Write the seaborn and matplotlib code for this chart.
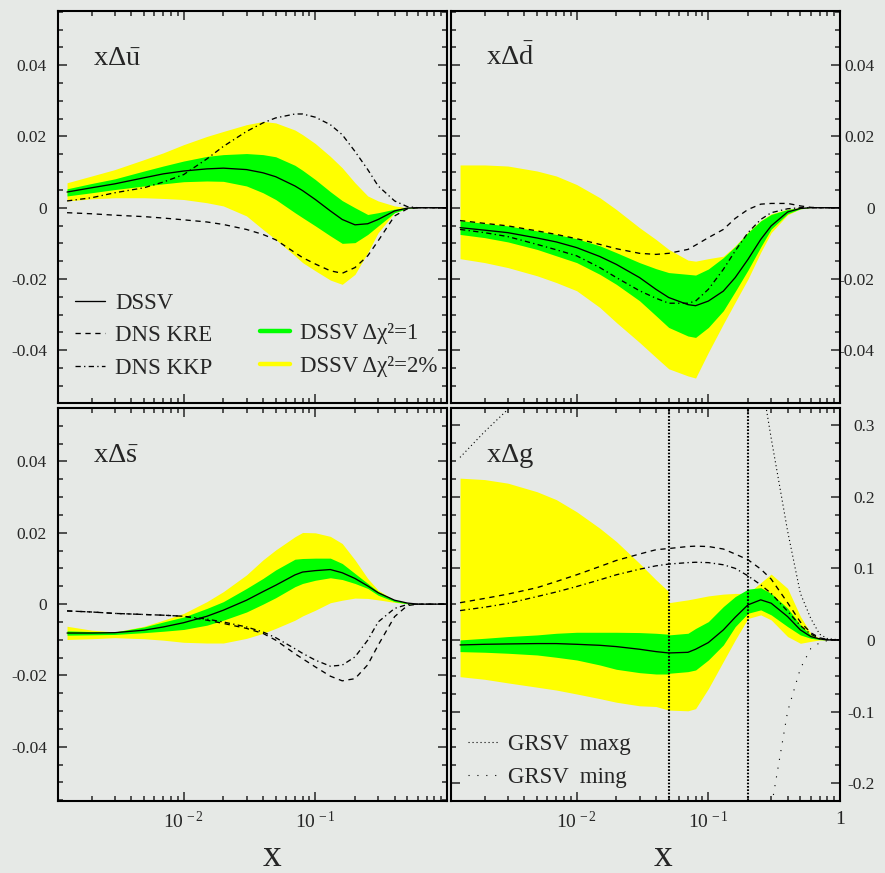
import numpy as np
import matplotlib
matplotlib.use('Agg')
import matplotlib.pyplot as plt
import seaborn as sns
from matplotlib.lines import Line2D
from matplotlib.ticker import MultipleLocator, LogLocator, FixedLocator, NullFormatter

# style first, fonts after (set_style resets font.family)
sns.set_style('ticks')
plt.rcParams['font.family'] = ['Liberation Serif', 'DejaVu Serif']
plt.rcParams['mathtext.fontset'] = 'custom'
plt.rcParams['mathtext.rm'] = 'Liberation Serif'
plt.rcParams['mathtext.it'] = 'Liberation Serif:italic'
plt.rcParams['mathtext.bf'] = 'Liberation Serif:bold'
plt.rcParams['axes.unicode_minus'] = False

BG = '#e6e9e6'
GREEN = '#00ff00'
YELLOW = '#ffff00'

# x grid used by the sea-quark panels
xq = [0.0013, 0.002, 0.003, 0.005, 0.007, 0.01, 0.015, 0.02, 0.03, 0.04, 0.05,
      0.07, 0.08, 0.1, 0.13, 0.16, 0.2, 0.25, 0.3, 0.4, 0.5, 0.6, 0.7, 0.8, 1.0]

# x Delta ubar
ubar_dssv = [0.0044, 0.0056, 0.0067, 0.0084, 0.0095, 0.0103, 0.0109, 0.0111, 0.0107, 0.0098, 0.0087,
             0.0061, 0.0048, 0.0023, -0.0009, -0.0033, -0.0048, -0.0045, -0.0033, -0.0009, -0.0001, 0, 0, 0, 0]
ubar_g_hi = [0.0053, 0.0068, 0.0081, 0.0103, 0.0117, 0.0131, 0.0144, 0.0149, 0.0152, 0.0149, 0.0143,
             0.0119, 0.0105, 0.0079, 0.0045, 0.0020, 0.0000, -0.0019, -0.0014, -0.0004, 0, 0, 0, 0, 0]
ubar_g_lo = [0.0033, 0.0042, 0.0051, 0.0061, 0.0067, 0.0073, 0.0075, 0.0074, 0.0061, 0.0042, 0.0023,
             -0.0014, -0.0028, -0.0051, -0.0079, -0.0100, -0.0098, -0.0075, -0.0051, -0.0014, -0.0002, 0, 0, 0, 0]
ubar_y_hi = [0.0070, 0.0089, 0.0107, 0.0135, 0.0154, 0.0177, 0.0200, 0.0214, 0.0233, 0.0242, 0.0238,
             0.0218, 0.0205, 0.0180, 0.0144, 0.0112, 0.0070, 0.0033, 0.0019, 0.0005, 0, 0, 0, 0, 0]
ubar_y_lo = [0.0019, 0.0025, 0.0028, 0.0028, 0.0026, 0.0023, 0.0014, 0.0005, -0.0023, -0.0061, -0.0089,
             -0.0135, -0.0154, -0.0177, -0.0203, -0.0215, -0.0187, -0.0126, -0.0070, -0.0014, -0.0002, 0, 0, 0, 0]
ubar_kre = [-0.0014, -0.0017, -0.0021, -0.0025, -0.0029, -0.0034, -0.0040, -0.0047, -0.0061, -0.0075, -0.0090,
            -0.0126, -0.0140, -0.0158, -0.0177, -0.0184, -0.0168, -0.0135, -0.0093, -0.0023, -0.0003, 0, 0, 0, 0]
ubar_kkp = [0.0019, 0.0028, 0.0042, 0.0056, 0.0072, 0.0093, 0.0137, 0.0172, 0.0214, 0.0238, 0.0252,
            0.0263, 0.0263, 0.0254, 0.0233, 0.0205, 0.0158, 0.0107, 0.0061, 0.0019, 0.0003, 0, 0, 0, 0]

# x Delta dbar
dbar_dssv = [-0.0056, -0.0063, -0.0070, -0.0085, -0.0096, -0.0112, -0.0137, -0.0159, -0.0196, -0.0229, -0.0252,
             -0.0272, -0.0275, -0.0262, -0.0234, -0.0196, -0.0145, -0.0089, -0.0051, -0.0012, -0.0002, 0, 0, 0, 0]
dbar_g_hi = [-0.0036, -0.0044, -0.0051, -0.0065, -0.0075, -0.0087, -0.0107, -0.0126, -0.0154, -0.0171, -0.0182,
             -0.0187, -0.0189, -0.0172, -0.0140, -0.0109, -0.0070, -0.0037, -0.0019, -0.0005, 0, 0, 0, 0, 0]
dbar_g_lo = [-0.0075, -0.0084, -0.0096, -0.0117, -0.0135, -0.0154, -0.0187, -0.0215, -0.0261, -0.0303, -0.0336,
             -0.0360, -0.0364, -0.0336, -0.0289, -0.0235, -0.0175, -0.0110, -0.0060, -0.0017, -0.0003, 0, 0, 0, 0]
dbar_y_hi = [0.0120, 0.0120, 0.0117, 0.0103, 0.0089, 0.0065, 0.0028, -0.0005, -0.0056, -0.0089, -0.0117,
             -0.0147, -0.0150, -0.0143, -0.0136, -0.0107, -0.0068, -0.0036, -0.0017, -0.0004, 0, 0, 0, 0, 0]
dbar_y_lo = [-0.0143, -0.0154, -0.0168, -0.0191, -0.0210, -0.0233, -0.0280, -0.0322, -0.0378, -0.0420, -0.0452,
             -0.0472, -0.0478, -0.0406, -0.0326, -0.0265, -0.0200, -0.0125, -0.0070, -0.0020, -0.0003, 0, 0, 0, 0]
dbar_kre = [-0.0036, -0.0044, -0.0051, -0.0065, -0.0075, -0.0087, -0.0103, -0.0115, -0.0128, -0.0131, -0.0128,
            -0.0117, -0.0105, -0.0084, -0.0061, -0.0030, -0.0005, 0.0010, 0.0012, 0.0012, 0.0005, 0.0001, 0, 0, 0]
dbar_kkp = [-0.0061, -0.0070, -0.0081, -0.0103, -0.0118, -0.0135, -0.0168, -0.0196, -0.0233, -0.0254, -0.0268,
            -0.0268, -0.0262, -0.0229, -0.0173, -0.0121, -0.0070, -0.0033, -0.0014, -0.0003, 0, 0, 0, 0, 0]

# x Delta sbar
sbar_dssv = [-0.0081, -0.0081, -0.0080, -0.0073, -0.0064, -0.0052, -0.0034, -0.0017, 0.0011, 0.0035, 0.0053,
             0.0082, 0.0090, 0.0094, 0.0097, 0.0088, 0.0072, 0.0051, 0.0032, 0.0011, 0.0003, 0, 0, 0, 0]
sbar_g_hi = [-0.0075, -0.0077, -0.0078, -0.0064, -0.0050, -0.0036, -0.0012, 0.0007, 0.0044, 0.0072, 0.0096,
             0.0126, 0.0128, 0.0129, 0.0129, 0.0114, 0.0086, 0.0058, 0.0035, 0.0012, 0.0003, 0, 0, 0, 0]
sbar_g_lo = [-0.0087, -0.0086, -0.0085, -0.0080, -0.0076, -0.0071, -0.0059, -0.0045, -0.0022, 0.0000, 0.0018,
             0.0049, 0.0058, 0.0067, 0.0074, 0.0069, 0.0058, 0.0044, 0.0025, 0.0007, 0.0001, 0, 0, 0, 0]
sbar_y_hi = [-0.0062, -0.0073, -0.0078, -0.0062, -0.0045, -0.0026, 0.0007, 0.0035, 0.0082, 0.0124, 0.0152,
             0.0189, 0.0201, 0.0200, 0.0190, 0.0170, 0.0124, 0.0072, 0.0039, 0.0011, 0.0002, 0, 0, 0, 0]
sbar_y_lo = [-0.0099, -0.0097, -0.0094, -0.0097, -0.0101, -0.0107, -0.0109, -0.0109, -0.0096, -0.0082, -0.0068,
             -0.0045, -0.0033, -0.0017, 0.0004, 0.0011, 0.0017, 0.0016, 0.0012, 0.0005, 0.0001, 0, 0, 0, 0]
sbar_kre = [-0.0019, -0.0022, -0.0026, -0.0029, -0.0031, -0.0034, -0.0045, -0.0054, -0.0068, -0.0082, -0.0101,
            -0.0139, -0.0153, -0.0176, -0.0202, -0.0215, -0.0209, -0.0170, -0.0115, -0.0035, -0.0004, 0, 0, 0, 0]
sbar_kkp = [-0.0019, -0.0022, -0.0026, -0.0029, -0.0031, -0.0034, -0.0042, -0.0050, -0.0064, -0.0078, -0.0094,
            -0.0125, -0.0138, -0.0157, -0.0174, -0.0171, -0.0148, -0.0101, -0.0050, -0.0012, -0.0001, 0, 0, 0, 0]

# x Delta g (0.05 appears twice: the error bands jump there)
xg = [0.0013, 0.002, 0.003, 0.005, 0.007, 0.01, 0.015, 0.02, 0.03, 0.04, 0.05, 0.05,
      0.07, 0.08, 0.1, 0.13, 0.16, 0.2, 0.25, 0.3, 0.4, 0.5, 0.6, 0.7, 0.8, 1.0]
g_dssv = [-0.0070, -0.0061, -0.0056, -0.0051, -0.0051, -0.0061, -0.0075, -0.0093, -0.0130, -0.0163, -0.0182, -0.0182,
          -0.0173, -0.0130, -0.0037, 0.0140, 0.0317, 0.0490, 0.0560, 0.0513, 0.0326, 0.0140, 0.0047, 0.0014, 0, 0]
g_g_hi = [0.0000, 0.0023, 0.0047, 0.0070, 0.0093, 0.0107, 0.0107, 0.0107, 0.0103, 0.0093, 0.0080, 0.0070,
          0.0093, 0.0160, 0.0256, 0.0466, 0.0606, 0.0709, 0.0730, 0.0650, 0.0443, 0.0210, 0.0070, 0.0014, 0, 0]
g_g_lo = [-0.0163, -0.0172, -0.0186, -0.0210, -0.0242, -0.0280, -0.0350, -0.0410, -0.0457, -0.0476, -0.0476, -0.0466,
          -0.0443, -0.0420, -0.0280, -0.0070, 0.0186, 0.0373, 0.0420, 0.0350, 0.0186, 0.0070, 0.0023, 0.0005, 0, 0]
g_y_hi = [0.226, 0.224, 0.219, 0.207, 0.196, 0.179, 0.156, 0.1375, 0.107, 0.084, 0.0676, 0.052,
          0.056, 0.058, 0.0615, 0.064, 0.065, 0.065, 0.080, 0.092, 0.072, 0.033, 0.0093, 0.0023, 0, 0]
g_y_lo = [-0.0513, -0.055, -0.060, -0.066, -0.070, -0.0755, -0.082, -0.087, -0.092, -0.093, -0.098, -0.098,
          -0.099, -0.096, -0.068, -0.030, 0.000, 0.030, 0.035, 0.028, 0.0047, -0.0047, -0.002, 0, 0, 0]
g_kre = [0.052, 0.058, 0.064, 0.073, 0.0816, 0.091, 0.1026, 0.111, 0.120, 0.126, 0.1277, 0.1277,
         0.1305, 0.131, 0.1305, 0.127, 0.120, 0.112, 0.099, 0.085, 0.052, 0.025, 0.010, 0.003, 0.0005, 0]
g_kkp = [0.041, 0.0457, 0.051, 0.0606, 0.067, 0.0746, 0.084, 0.091, 0.0988, 0.1035, 0.106, 0.106,
         0.108, 0.1085, 0.108, 0.105, 0.100, 0.0895, 0.077, 0.065, 0.040, 0.020, 0.008, 0.002, 0.0005, 0]
g_maxg = [0.255, 0.291, 0.322, 0.37, 0.40, 0.43, 0.46, 0.48, 0.50, 0.51, 0.52, 0.52,
          0.52, 0.52, 0.51, 0.49, 0.46, 0.42, 0.37, 0.282, 0.152, 0.065, 0.030, 0.008, 0.002, 0]
g_ming = [-0.60, -0.60, -0.60, -0.60, -0.60, -0.60, -0.60, -0.60, -0.60, -0.58, -0.56, -0.56,
          -0.53, -0.51, -0.48, -0.44, -0.40, -0.36, -0.33, -0.235, -0.100, -0.040, -0.012, -0.004, -0.001, 0]
g_cuts = [0.05, 0.2]

quark_yticks = [-0.04, -0.02, 0, 0.02, 0.04]
quark_ylabels = ['-0.04', '-0.02', '0', '0.02', '0.04']
gluon_yticks = [-0.2, -0.1, 0, 0.1, 0.2, 0.3]
gluon_ylabels = ['-0.2', '-0.1', '0', '0.1', '0.2', '0.3']

LS_KRE = (0, (4, 3.5))
LS_KKP = (0, (4, 2.5, 1, 2.5))
LS_MAXG = (0, (1, 2.6))
LS_MING = (0, (1, 7))

fig = plt.figure(figsize=(8.85, 8.73), dpi=100, facecolor=BG)
W, H = 885, 873
ax_tl = fig.add_axes([58 / W, 1 - 403 / H, 389 / W, 392 / H])
ax_tr = fig.add_axes([451 / W, 1 - 403 / H, 389 / W, 392 / H])
ax_bl = fig.add_axes([58 / W, 1 - 801 / H, 389 / W, 393 / H])
ax_br = fig.add_axes([451 / W, 1 - 801 / H, 389 / W, 393 / H])


def draw_panel(ax, x, y_lo, y_hi, g_lo, g_hi, dssv, kre, kkp):
    ax.fill_between(x, y_lo, y_hi, color=YELLOW, lw=0, zorder=1)
    ax.fill_between(x, g_lo, g_hi, color=GREEN, lw=0, zorder=2)
    sns.lineplot(x=x, y=kre, ax=ax, color='k', lw=0.95, linestyle=LS_KRE, estimator=None, zorder=3)
    sns.lineplot(x=x, y=kkp, ax=ax, color='k', lw=0.95, linestyle=LS_KKP, estimator=None, zorder=3)
    sns.lineplot(x=x, y=dssv, ax=ax, color='k', lw=0.95, estimator=None, zorder=4)


def style_axes(ax, ylim, yticks, ylabels, yminor, right=False, xlabels=None):
    ax.set_facecolor(BG)
    ax.set_xscale('log')
    ax.set_xlim(1.11e-3, 1.0)
    ax.set_ylim(*ylim)
    ax.xaxis.set_major_locator(FixedLocator([0.01, 0.1, 1.0]))
    ax.xaxis.set_minor_locator(LogLocator(base=10, subs=np.arange(2, 10), numticks=20))
    ax.xaxis.set_minor_formatter(NullFormatter())
    if xlabels is None:
        ax.set_xticklabels(['', '', ''])
    else:
        ax.set_xticklabels(xlabels)
    ax.set_yticks(yticks)
    ax.yaxis.set_minor_locator(MultipleLocator(yminor))
    ax.tick_params(which='both', direction='in', top=True, bottom=True, left=True, right=True,
                   width=1.1)
    ax.tick_params(which='major', length=6.5)
    ax.tick_params(which='minor', length=3.5)
    ax.tick_params(axis='y', labelsize=12.5)
    ax.tick_params(axis='x', pad=7, labelsize=14, labelbottom=xlabels is not None)
    if right:
        ax.set_yticklabels(ylabels, ha='right')
        ax.tick_params(axis='y', labelleft=False, labelright=True, pad=25)
    else:
        ax.set_yticklabels(ylabels)
        ax.tick_params(axis='y', pad=8)
    for sp in ax.spines.values():
        sp.set_linewidth(1.5)
        sp.set_color('k')
    ax.set_xlabel('')
    ax.set_ylabel('')


xlab_left = [r'$\mathrm{10}^{\,-2}$', r'$\mathrm{10}^{\,-1}$', '']
xlab_right = [r'$\mathrm{10}^{\,-2}$', r'$\mathrm{10}^{\,-1}$', '1']

# panels
draw_panel(ax_tl, xq, ubar_y_lo, ubar_y_hi, ubar_g_lo, ubar_g_hi, ubar_dssv, ubar_kre, ubar_kkp)
style_axes(ax_tl, (-0.0548, 0.0552), quark_yticks, quark_ylabels, 0.005)

draw_panel(ax_tr, xq, dbar_y_lo, dbar_y_hi, dbar_g_lo, dbar_g_hi, dbar_dssv, dbar_kre, dbar_kkp)
style_axes(ax_tr, (-0.0548, 0.0552), quark_yticks, quark_ylabels, 0.005, right=True)

draw_panel(ax_bl, xq, sbar_y_lo, sbar_y_hi, sbar_g_lo, sbar_g_hi, sbar_dssv, sbar_kre, sbar_kkp)
style_axes(ax_bl, (-0.0552, 0.0550), quark_yticks, quark_ylabels, 0.005, xlabels=xlab_left)

draw_panel(ax_br, xg, g_y_lo, g_y_hi, g_g_lo, g_g_hi, g_dssv, g_kre, g_kkp)
sns.lineplot(x=xg, y=g_maxg, ax=ax_br, color='k', lw=0.8, linestyle=LS_MAXG, estimator=None, zorder=3)
sns.lineplot(x=xg, y=g_ming, ax=ax_br, color='k', lw=0.8, linestyle=LS_MING, estimator=None, zorder=3)
for xc in g_cuts:
    ax_br.axvline(xc, color='k', lw=1.5, linestyle=(0, (0.8, 0.8)), zorder=5)
style_axes(ax_br, (-0.225, 0.324), gluon_yticks, gluon_ylabels, 0.025, right=True, xlabels=xlab_right)

# panel titles
titles = [(ax_tl, r'$\mathrm{x}\Delta\bar{\mathrm{u}}$'), (ax_tr, r'$\mathrm{x}\Delta\bar{\mathrm{d}}$'),
          (ax_bl, r'$\mathrm{x}\Delta\bar{\mathrm{s}}$'), (ax_br, r'$\mathrm{x}\Delta\mathrm{g}$')]
for ax, t in titles:
    ax.text(0.09, 0.862, t, transform=ax.transAxes, fontsize=20.5, va='baseline', ha='left')

# axis labels "x"
ax_bl.text(0.55, -0.166, 'x', transform=ax_bl.transAxes, fontsize=27, ha='center', va='baseline')
ax_br.text(0.545, -0.166, 'x', transform=ax_br.transAxes, fontsize=27, ha='center', va='baseline')

# legends
leg_kw = dict(frameon=False, fontsize=16.5, handlelength=1.3, handletextpad=0.45, labelspacing=0.5,
              borderaxespad=0, loc='center left')
h1 = [Line2D([], [], color='k', lw=0.95),
      Line2D([], [], color='k', lw=0.95, linestyle=LS_KRE),
      Line2D([], [], color='k', lw=0.95, linestyle=LS_KKP)]
leg1 = ax_tl.legend(h1, ['DSSV', 'DNS KRE', 'DNS KKP'], bbox_to_anchor=(0.02, 0.171), **leg_kw)
ax_tl.add_artist(leg1)
h2 = [Line2D([], [], color=GREEN, lw=3.2), Line2D([], [], color=YELLOW, lw=3.2)]
ax_tl.legend(h2, ['DSSV Δχ²=1', 'DSSV Δχ²=2%'], bbox_to_anchor=(0.495, 0.135), **leg_kw)

h3 = [Line2D([], [], color='k', lw=0.8, linestyle=LS_MAXG),
      Line2D([], [], color='k', lw=0.8, linestyle=LS_MING)]
ax_br.legend(h3, ['GRSV  maxg', 'GRSV  ming'], bbox_to_anchor=(0.02, 0.102), **leg_kw)

fig.savefig('out.png', dpi=100, facecolor=BG)
